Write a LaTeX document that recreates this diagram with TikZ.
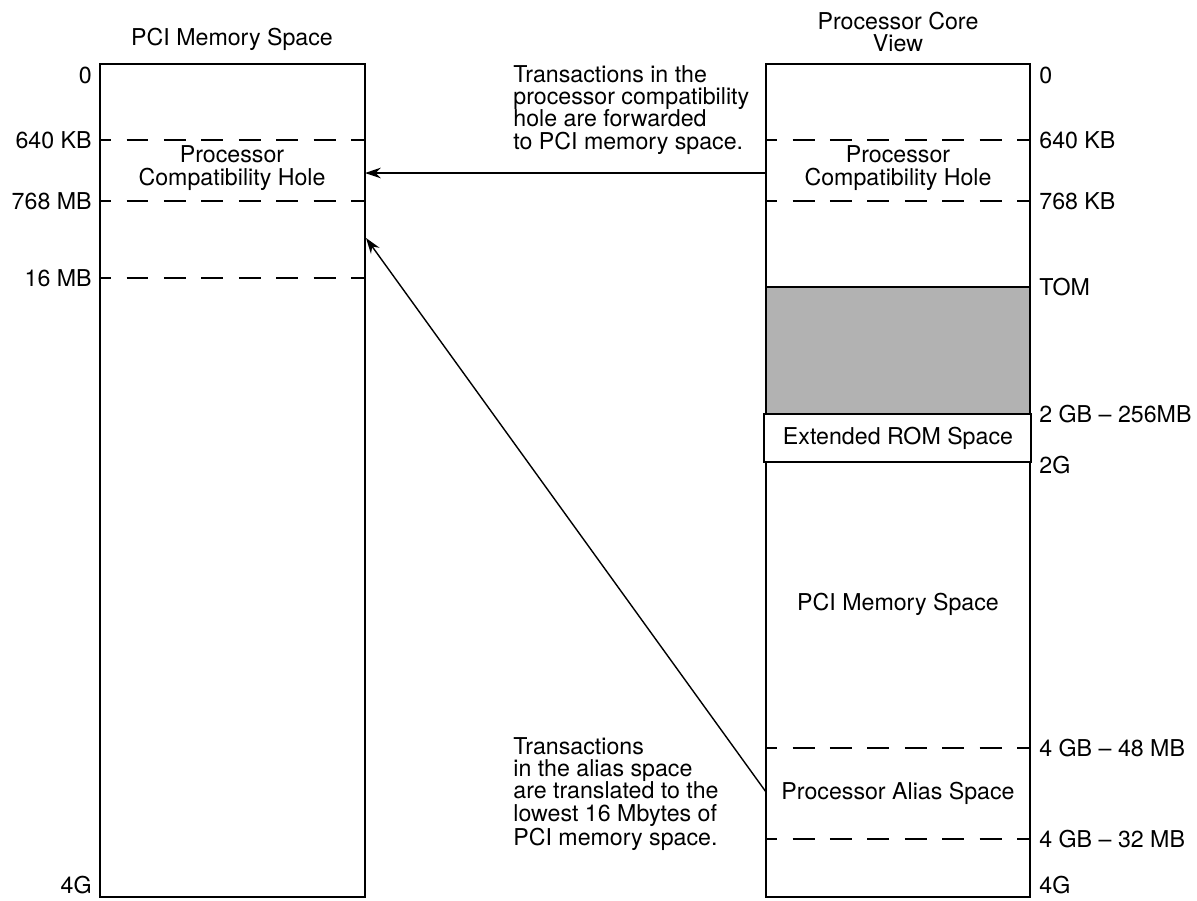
\documentclass[tikz,border=0pt]{standalone}
\usepackage{fontspec}
\setmainfont{TeX Gyre Heros}
\usetikzlibrary{arrows.meta}

\tikzset{
  membox/.style={line width=1.4pt},
  bound/.style={line width=1.1pt, dash pattern=on 12.5pt off 8.8pt, dash phase=6.2pt},
  txt/.style={font=\fontsize{13.2}{12.6}\selectfont, inner sep=0pt, align=center},
  addr/.style={txt},
  fwd/.style={line width=0.8pt, -{Stealth[length=9pt, width=6pt, inset=3pt]}}
}

\begin{document}
\begin{tikzpicture}[x=0.02cm, y=-0.02cm]
\useasboundingbox (0,0) rectangle (1197,900);

% PCI memory space (left)
\node[txt] (pciTitle) at (232,39) {PCI Memory Space};
\draw[membox] (100,64) rectangle (365,897);
\foreach \y/\lbl in {140/640 KB, 201/768 MB, 278/16 MB}{
   \draw[bound] (100,\y) -- (365,\y);
   \node[addr, anchor=east] (pl\y) at (92,\y) {\lbl};
}
\node[addr, anchor=east] (pl0) at (92,75) {0};
\node[addr, anchor=east] (pl4G) at (92,885) {4G};
\node[txt] (pciHoleTxt) at (232,168) {Processor\\Compatibility Hole};

% processor core view (right)
\node[txt, font=\fontsize{13.2}{12}\selectfont] (coreTitle) at (898,32) {Processor Core\\View};
\fill[black!30] (766,287) rectangle (1030,414);
\draw[membox] (766,64) rectangle (1030,897);
\draw[membox] (766,287) -- (1030,287);
\draw[membox, fill=white] (764,414) rectangle (1031,462);
\foreach \y in {140,201,748,839}
   \draw[bound] (766,\y) -- (1030,\y);
\foreach \y/\lbl in {75/0, 140/640 KB, 201/768 KB, 287/TOM, 414/2 GB -- 256MB, 465/2G, 748/4 GB -- 48 MB, 839/4 GB -- 32 MB, 885/4G}{
   \node[addr, anchor=west] (cl\y) at (1039,\y) {\lbl};
}
\node[txt] (coreHoleTxt) at (898,168) {Processor\\Compatibility Hole};
\node[txt] (romTxt) at (898,438) {Extended ROM Space};
\node[txt] (corePciTxt) at (898,604) {PCI Memory Space};
\node[txt] (aliasTxt) at (898,793) {Processor Alias Space};

% notes
\node[txt, align=left, anchor=west] (holeNote) at (513,110)
   {Transactions in the\\processor compatibility\\hole are forwarded\\to PCI memory space.};
\node[txt, align=left, anchor=west] (aliasNote) at (513,794)
   {Transactions\\in the alias space\\are translated to the\\lowest 16 Mbytes of\\PCI memory space.};

% forwarding arrows
\coordinate (coreHole) at (766,173);
\coordinate (pciHole) at (365,173);
\coordinate (coreAlias) at (766,792);
\coordinate (pciLow) at (366,238);
\draw[fwd] (coreHole) -- (pciHole);
\draw[fwd] (coreAlias) -- (pciLow);
\end{tikzpicture}
\end{document}
